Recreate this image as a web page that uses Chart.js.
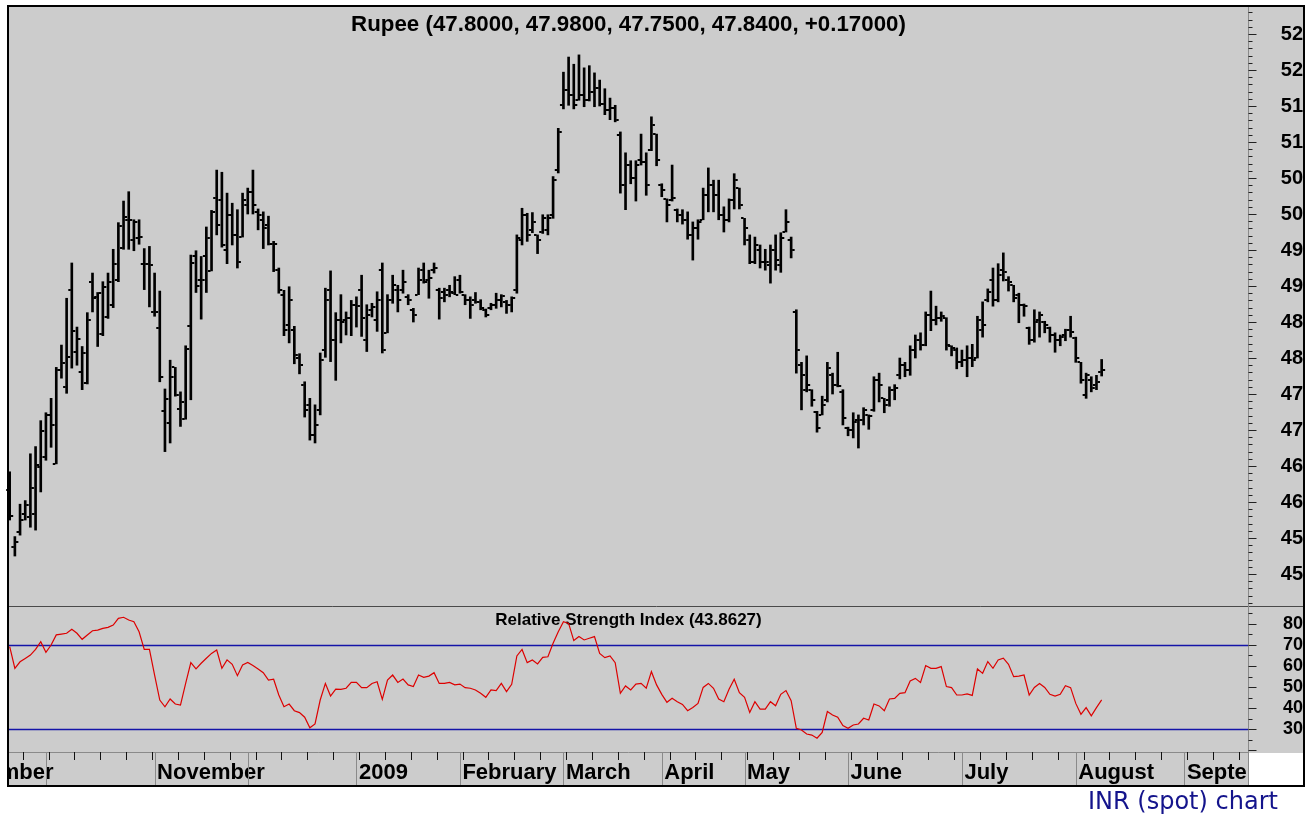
<!DOCTYPE html>
<html>
<head>
<meta charset="utf-8">
<title>INR (spot) chart</title>
<script src="https://cdn.jsdelivr.net/npm/chart.js@4.4.1/dist/chart.umd.min.js"></script>
<style>
html,body{margin:0;padding:0;background:#ffffff;overflow:hidden;}
#c{position:absolute;left:0;top:0;}
#caption{position:absolute;left:1088px;top:787px;font-family:"DejaVu Sans",sans-serif;font-size:24px;color:#14148c;white-space:nowrap;line-height:28px;}
</style>
</head>
<body>
<canvas id="c" width="1307" height="816"></canvas>
<div id="caption">INR (spot) chart</div>
<script>
// ---------------- DATA ----------------
const seriesName = 'Rupee';
const opens = [46.17,45.38,45.59,45.84,45.79,45.84,46.49,46.63,47.21,46.53,
47.83,47.60,48.94,48.09,47.81,47.65,49.05,48.85,48.34,48.57,
48.74,49.08,49.53,49.92,49.64,49.66,49.31,49.31,48.64,48.41,
47.27,47.10,47.87,47.29,47.16,48.44,49.41,49.08,49.41,49.21,
50.22,50.19,49.50,49.99,49.71,49.68,50.13,50.31,50.03,49.92,
49.85,49.58,49.22,48.88,48.46,48.39,48.00,47.63,47.35,46.93,
47.28,48.11,48.94,48.25,48.53,48.53,48.56,48.74,48.94,48.25,
48.67,48.53,49.22,48.35,48.81,48.94,48.94,48.85,48.67,48.88,
49.22,49.08,49.22,48.94,48.92,48.94,48.90,49.08,48.88,48.81,
48.81,48.78,48.67,48.69,48.74,48.81,48.78,48.74,48.94,49.64,
49.99,49.78,49.71,49.75,49.78,49.99,50.61,51.51,51.72,51.65,
51.58,51.65,51.58,51.69,51.75,51.53,51.44,51.47,51.10,50.40,
50.68,50.50,50.75,50.72,50.89,51.11,50.40,50.21,50.19,50.06,
49.99,49.92,49.71,49.81,49.92,50.26,50.40,50.26,49.99,49.92,
50.19,50.36,49.94,49.64,49.33,49.50,49.33,49.29,49.50,49.29,
49.75,49.64,48.64,47.90,47.56,47.56,47.25,47.21,47.42,47.76,
47.63,47.53,47.03,47.00,47.14,47.14,47.21,47.28,47.69,47.44,
47.42,47.56,47.76,47.90,47.83,48.11,48.25,48.18,48.60,48.53,
48.56,48.56,48.17,48.11,47.94,47.97,48.00,48.00,48.39,48.81,
49.08,48.81,49.22,49.08,49.01,48.88,48.74,48.42,48.25,48.53,
48.50,48.42,48.32,48.25,48.32,48.39,48.28,47.94,47.49,47.69,
47.63,47.80];
const highs = [46.42,45.52,45.97,46.02,46.67,46.77,47.13,47.24,47.44,47.87,
48.18,48.83,49.32,48.43,48.16,48.63,49.18,48.91,49.06,49.18,
49.51,49.88,50.18,50.31,49.92,49.92,49.52,49.55,49.18,48.93,
47.57,47.97,47.87,47.53,48.17,49.43,49.49,49.41,49.82,50.05,
50.61,50.58,50.29,50.15,50.06,50.29,50.36,50.61,50.07,50.03,
49.97,49.62,49.25,48.94,48.99,48.44,48.06,47.67,47.44,47.35,
48.07,48.97,49.21,48.63,48.88,48.64,48.80,48.85,49.15,48.74,
48.76,48.92,49.32,48.88,49.15,49.01,49.22,48.88,48.69,49.25,
49.32,49.22,49.32,48.97,48.97,49.01,49.13,49.15,48.88,48.85,
48.91,48.81,48.68,48.76,48.90,48.88,48.80,48.85,49.71,50.08,
50.01,50.02,49.71,49.99,49.99,50.52,51.19,51.97,52.18,52.08,
52.21,52.03,52.06,51.96,51.86,51.74,51.61,51.51,51.14,50.85,
50.74,50.74,51.11,50.85,51.35,51.11,50.42,50.21,50.68,50.07,
50.06,50.03,49.89,49.92,50.36,50.64,50.47,50.47,50.10,50.21,
50.56,50.36,49.94,49.71,49.68,49.57,49.51,49.57,49.71,49.74,
50.06,49.68,48.67,47.94,48.03,47.56,47.26,47.47,47.94,47.79,
48.08,47.56,47.04,47.24,47.21,47.31,47.21,47.74,47.79,47.44,
47.60,47.63,48.00,47.94,48.17,48.32,48.35,48.64,48.93,48.72,
48.64,48.56,48.17,48.14,48.11,48.17,48.19,48.58,48.78,48.96,
49.25,49.31,49.46,49.13,49.01,48.90,48.75,48.43,48.67,48.64,
48.51,48.43,48.35,48.32,48.40,48.58,48.29,47.94,47.79,47.74,
47.76,47.98];
const lows = [45.75,45.25,45.54,45.75,45.65,45.61,46.14,46.58,46.76,46.53,
47.72,47.51,47.86,47.90,47.56,47.64,48.64,48.16,48.31,48.55,
48.70,49.06,49.51,49.51,49.49,49.58,48.95,48.71,48.58,47.67,
46.70,46.82,47.47,47.05,47.15,47.42,48.91,48.54,48.91,49.21,
49.71,49.54,49.31,49.57,49.25,49.68,50.00,50.00,49.78,49.52,
49.57,49.20,48.90,48.31,48.21,47.92,47.78,47.18,46.86,46.82,
47.21,48.01,47.95,47.69,48.21,48.32,48.31,48.43,48.30,48.09,
48.57,48.37,48.07,48.35,48.76,48.64,48.90,48.74,48.50,48.88,
49.04,48.83,49.18,48.54,48.78,48.85,48.88,48.90,48.74,48.55,
48.76,48.67,48.57,48.67,48.69,48.71,48.62,48.64,48.90,49.57,
49.62,49.74,49.45,49.73,49.71,49.94,50.57,51.46,51.51,51.46,
51.58,51.49,51.57,51.49,51.50,51.38,51.31,51.28,50.29,50.06,
50.42,50.18,50.68,50.26,50.88,50.67,50.24,49.89,50.18,49.89,
49.86,49.65,49.36,49.65,49.92,50.03,50.03,49.92,49.75,49.89,
50.07,50.07,49.57,49.31,49.31,49.25,49.22,49.04,49.22,49.19,
49.75,49.39,47.79,47.28,47.53,47.33,46.97,47.21,47.39,47.50,
47.60,47.07,46.92,46.89,46.75,47.07,47.01,47.26,47.39,47.24,
47.33,47.42,47.71,47.74,47.76,48.00,48.11,48.17,48.38,48.46,
48.51,48.11,48.03,47.85,47.88,47.74,47.88,48.00,48.29,48.78,
48.72,48.78,49.07,48.93,48.78,48.49,48.58,48.19,48.22,48.29,
48.35,48.22,48.08,48.17,48.24,48.29,47.94,47.65,47.44,47.53,
47.56,47.75];
const closes = [45.80,45.45,45.75,45.96,46.20,46.51,46.98,47.21,47.07,47.83,
47.93,48.02,48.37,48.26,48.07,48.53,48.84,48.90,48.99,49.06,
49.31,49.83,49.96,49.91,49.89,49.68,49.31,49.29,48.64,47.74,
47.43,47.73,47.49,47.39,48.12,49.32,49.00,49.08,49.66,50.03,
49.85,49.57,49.99,49.71,49.33,50.19,50.31,50.13,49.99,49.81,
49.58,49.58,48.94,48.39,48.81,48.04,47.90,47.28,46.93,47.07,
47.97,48.81,48.25,48.53,48.50,48.56,48.74,48.72,48.56,48.60,
48.71,48.81,48.11,48.81,49.01,48.81,49.06,48.81,48.60,49.08,
49.06,49.11,49.25,48.83,48.88,48.92,48.88,48.92,48.81,48.74,
48.78,48.69,48.60,48.74,48.81,48.86,48.74,48.83,49.67,49.99,
49.71,49.89,49.64,49.94,49.94,50.47,51.14,51.72,51.65,51.51,
51.65,51.58,51.69,51.75,51.53,51.44,51.47,51.31,50.40,50.68,
50.50,50.68,50.72,50.40,51.24,50.75,50.33,50.13,50.22,49.99,
49.92,49.71,49.81,49.89,50.26,50.40,50.26,49.99,49.92,50.19,
50.47,50.13,49.81,49.33,49.57,49.33,49.33,49.50,49.36,49.67,
49.89,49.50,48.11,47.76,47.63,47.42,47.03,47.35,47.86,47.63,
47.61,47.17,47.00,47.11,47.14,47.28,47.19,47.69,47.63,47.35,
47.56,47.58,47.90,47.83,48.11,48.25,48.18,48.60,48.53,48.56,
48.58,48.18,48.14,47.94,47.97,48.00,47.97,48.53,48.46,48.92,
48.81,49.15,49.19,49.06,48.83,48.74,48.72,48.25,48.50,48.60,
48.46,48.32,48.25,48.29,48.39,48.36,48.00,47.69,47.76,47.58,
47.67,47.84];
const rsi = [69.2,58.9,62,63.6,65.2,67.9,71.6,66.5,70,74.8,
75.2,75.6,77.5,75.6,72.7,74.8,76.8,77.1,77.9,78.4,
79.5,82.7,83.2,81.9,81.1,76.3,67.9,67.9,55.7,43.8,
40.6,44.3,41.9,41.4,51.7,61.6,58.6,61.3,63.7,66,
67.6,58.9,62.9,60.8,55.4,60.5,61.7,60.2,58.6,56.8,
53.3,53.7,46.2,40.6,41.9,38.7,37.8,35.6,30.6,32.4,
43.8,51.7,45.7,49,48.9,49.4,52.2,52.2,49.7,49.7,
51.7,52.5,44.1,53.3,55.7,52.2,53.8,51,50.2,55.7,
54.6,55.2,56.8,51.7,51.7,52.2,51,51.4,49.7,49.4,
48.6,47,45.1,48.6,48.3,51.7,47.8,51.3,64.8,67.9,
61.6,62.9,61,64.1,64.4,70.8,76.3,81.1,80.3,72.1,
74,72.4,73.2,74,66,64,64.8,61.6,47,50.5,
48.6,51.4,51.7,49.4,57.3,51,46.5,42.7,44.6,43,
41.7,38.7,40.2,42.2,49.8,51.7,49.4,44.3,43,48.9,
53.7,47.3,45.1,37.9,43,39.5,39.5,43,41.1,46.5,
48.3,43.5,30.3,29.5,27.6,27.1,25.6,28.4,38.3,36.7,
35.6,31.6,30.3,31.9,32.4,35.1,34.3,41.9,41,38.7,
44.3,44.6,47,47.3,52.9,54.1,52.2,60.2,58.9,58.9,
59.7,50.2,49.7,46.2,46.2,46.7,46,58.6,56.5,62.1,
58.9,62.9,63.7,60.8,54.9,55.2,55.7,46.2,49.8,51.7,
49.8,46.5,45.7,46.5,50.6,49.7,42.2,37,40.2,36.3,
40.2,43.8627];
// month boundaries (bar index of first trading day) and their labels
const monthStart  = [-14, 7, 28, 46, 67, 87, 107, 126, 142, 162, 184, 206, 227];
const monthLabels = ['September', '', 'November', '', '2009', 'February', 'March', 'April', 'May', 'June', 'July', 'August', 'September'];
// right price axis ticks and their printed labels
const priceTickValues = [52.5, 52, 51.5, 51, 50.5, 50, 49.5, 49, 48.5, 48, 47.5, 47, 46.5, 46, 45.5, 45];
const priceTickLabels = ['52','52','51','51','50','50','49','49','48','48','47','47','46','46','45','45'];
const rsiTickValues = [80, 70, 60, 50, 40, 30];
const rsiTickLabels = ['80','70','60','50','40','30'];
const rsiLevels = [70, 30];

// ---------------- CHART ----------------
Chart.defaults.font.family = "'Liberation Sans', Arial, Helvetica, sans-serif";
Chart.defaults.color = '#000';

const BG = '#cccccc';
const last = closes.length - 1;
const chg = closes[last] - closes[last - 1];
const titleText = seriesName + ' (' + opens[last].toFixed(4) + ', ' + highs[last].toFixed(4) + ', ' +
  lows[last].toFixed(4) + ', ' + closes[last].toFixed(4) + ', ' + (chg >= 0 ? '+' : '') + chg.toFixed(5) + ')';
const rsiTitle = 'Relative Strength Index (' + rsi[last].toFixed(4) + ')';

const deco = {
  id: 'deco',
  beforeDraw(chart) {
    const ctx = chart.ctx;
    ctx.save();
    ctx.fillStyle = '#ffffff';
    ctx.fillRect(0, 0, chart.width, chart.height);
    ctx.fillStyle = BG;
    ctx.fillRect(8, 6, 1296, 747);
    ctx.fillRect(8, 752, 1240, 34);
    ctx.restore();
  },
  beforeDatasetsDraw(chart) {
    const {ctx, chartArea: a, scales} = chart;
    const y = scales.y, ry = scales.rsiY;
    ctx.save();
    // panel divider
    const dy = Math.round(y.bottom) + 0.5;
    ctx.strokeStyle = '#4a4a4a'; ctx.lineWidth = 1;
    ctx.beginPath(); ctx.moveTo(a.left, dy); ctx.lineTo(1304, dy); ctx.stroke();
    // RSI levels
    ctx.strokeStyle = '#1414a8'; ctx.lineWidth = 1.5;
    rsiLevels.forEach(v => {
      const py = Math.round(ry.getPixelForValue(v)) + 0.5;
      ctx.beginPath(); ctx.moveTo(a.left, py); ctx.lineTo(a.right, py); ctx.stroke();
    });
    // titles
    ctx.fillStyle = '#000';
    ctx.textAlign = 'center'; ctx.textBaseline = 'middle';
    const cx = (a.left + a.right) / 2;
    ctx.font = "bold 22.3px 'Liberation Sans', Arial, sans-serif";
    ctx.fillText(titleText, cx, 25);
    ctx.font = "bold 17px 'Liberation Sans', Arial, sans-serif";
    ctx.fillText(rsiTitle, cx, ry.top + 14);
    ctx.restore();
  },
  afterDatasetsDraw(chart) {
    const {ctx, scales: {x, y}} = chart;
    ctx.save();
    ctx.fillStyle = '#000';
    for (let i = 0; i < opens.length; i++) {
      const px = x.getPixelForValue(i);
      const yo = Math.round(y.getPixelForValue(opens[i]));
      const yc = Math.round(y.getPixelForValue(closes[i]));
      ctx.fillRect(px - 3.5, yo - 1, 2.5, 2);
      ctx.fillRect(px + 1, yc - 1, 2.5, 2);
    }
    ctx.restore();
  },
  afterDraw(chart) {
    const {ctx, chartArea: a, scales} = chart;
    const x = scales.x, y = scales.y, ry = scales.rsiY;
    ctx.save();
    // right axis line + tick marks
    const ax = Math.round(y.left) + 0.5;
    ctx.strokeStyle = '#8a8a8a'; ctx.lineWidth = 1;
    ctx.beginPath(); ctx.moveTo(ax, a.top); ctx.lineTo(ax, a.bottom); ctx.stroke();
    ctx.strokeStyle = '#222'; ctx.beginPath();
    for (let k = Math.ceil(y.min * 10); k <= Math.floor(y.max * 10); k++) {
      const py = Math.round(y.getPixelForValue(k / 10)) + 0.5;
      const len = (k % 5 === 0) ? 8 : 4;
      ctx.moveTo(ax, py); ctx.lineTo(ax + len, py);
    }
    for (let k = Math.ceil(ry.min / 5) * 5; k <= ry.max; k += 5) {
      const py = Math.round(ry.getPixelForValue(k)) + 0.5;
      const len = (k % 10 === 0) ? 8 : 4;
      ctx.moveTo(ax, py); ctx.lineTo(ax + len, py);
    }
    ctx.stroke();
    // time strip: top line, month separators, weekly ticks
    ctx.strokeStyle = '#8a8a8a';
    ctx.beginPath(); ctx.moveTo(a.left, a.bottom + 0.5); ctx.lineTo(1248, a.bottom + 0.5); ctx.stroke();
    ctx.beginPath();
    monthStart.forEach(m => {
      const px = Math.round(x.getPixelForValue(m)) + 0.5;
      if (px > a.left && px < a.right) { ctx.moveTo(px, a.bottom); ctx.lineTo(px, 786); }
    });
    ctx.stroke();
    ctx.strokeStyle = '#111';
    ctx.beginPath();
    for (let k = 3; k < x.max; k += 5) {
      const px = Math.round(x.getPixelForValue(k - 0.5)) + 0.5;
      ctx.moveTo(px, a.bottom); ctx.lineTo(px, a.bottom + 8);
    }
    ctx.stroke();
    // masks outside the frame
    ctx.fillStyle = '#ffffff';
    ctx.fillRect(0, 740, 7, 60);
    ctx.fillRect(1248, 753, 56, 33);
    ctx.strokeStyle = '#8a8a8a';
    ctx.beginPath(); ctx.moveTo(1248.5, 752); ctx.lineTo(1248.5, 786); ctx.stroke();
    // frame
    ctx.strokeStyle = '#000'; ctx.lineWidth = 2;
    ctx.strokeRect(8, 6, 1296, 780);
    ctx.restore();
  }
};

function fixY(width) {
  return function (scale) {
    scale.width = width;
    scale.paddingTop = 0; scale.paddingBottom = 0;
    scale.paddingLeft = 0; scale.paddingRight = 0;
  };
}

new Chart(document.getElementById('c'), {
  type: 'bar',
  data: {
    datasets: [
      {
        type: 'line',
        label: 'RSI',
        data: rsi.map((v, i) => ({x: i, y: v})),
        xAxisID: 'x', yAxisID: 'rsiY',
        borderColor: '#dd0000', borderWidth: 1.2,
        pointRadius: 0, tension: 0, fill: false
      },
      {
        type: 'bar',
        label: seriesName,
        data: highs.map((h, i) => ({x: i, y: [lows[i], h]})),
        xAxisID: 'x', yAxisID: 'y',
        backgroundColor: '#000', borderWidth: 0,
        barThickness: 2, grouped: false
      }
    ]
  },
  options: {
    responsive: false,
    animation: false,
    events: [],
    layout: {padding: {left: 9, top: 7, right: 4, bottom: 30}},
    plugins: {legend: {display: false}, tooltip: {enabled: false}, title: {display: false}},
    scales: {
      x: {
        type: 'linear', position: 'bottom', axis: 'x',
        min: -0.135, max: 239.28, offset: false,
        grid: {display: false, drawTicks: false},
        border: {display: false},
        afterBuildTicks(scale) { scale.ticks = monthStart.map(v => ({value: v})); },
        afterFit(scale) { scale.height = 34; scale.paddingLeft = 0; scale.paddingRight = 0; },
        ticks: {
          autoSkip: false, maxRotation: 0, minRotation: 0,
          align: 'start', labelOffset: 2.5, padding: 8,
          font: {size: 22, weight: 'bold'}, color: '#000',
          callback: (v, i) => monthLabels[i]
        }
      },
      y: {
        type: 'linear', position: 'right', axis: 'y', stack: 'panes', stackWeight: 599,
        min: 44.556, max: 52.875,
        grid: {display: false, drawTicks: false},
        border: {display: false},
        afterBuildTicks(scale) { scale.ticks = priceTickValues.map(v => ({value: v})); },
        afterFit: fixY(55),
        ticks: {
          autoSkip: false, crossAlign: 'far', padding: 14,
          font: {size: 20, weight: 'bold'}, color: '#000',
          callback: (v, i) => priceTickLabels[i]
        }
      },
      rsiY: {
        type: 'linear', position: 'right', axis: 'y', stack: 'panes', stackWeight: 146,
        min: 19.05, max: 88.57,
        grid: {display: false, drawTicks: false},
        border: {display: false},
        afterBuildTicks(scale) { scale.ticks = rsiTickValues.map(v => ({value: v})); },
        afterFit: fixY(55),
        ticks: {
          autoSkip: false, crossAlign: 'far', padding: 17,
          font: {size: 18, weight: 'bold'}, color: '#000',
          callback: (v, i) => rsiTickLabels[i]
        }
      }
    }
  },
  plugins: [deco]
});
</script>
</body>
</html>
